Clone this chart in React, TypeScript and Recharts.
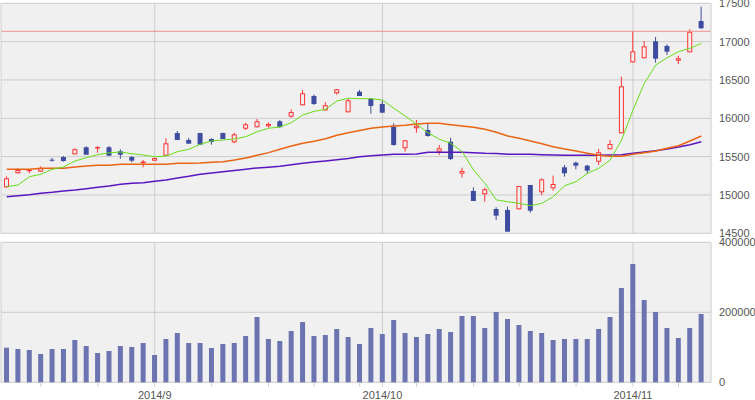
import React from 'react';
import { ComposedChart, Bar, Line, XAxis, YAxis, CartesianGrid, ReferenceLine } from 'recharts';

const dates = ['8/13','8/14','8/15','8/18','8/19','8/20','8/21','8/22','8/25','8/26','8/27','8/28','8/29',
  '9/1','9/2','9/3','9/4','9/5','9/8','9/9','9/10','9/11','9/12','9/16','9/17','9/18','9/19','9/22','9/24','9/25','9/26','9/29','9/30',
  '10/1','10/2','10/3','10/6','10/7','10/8','10/9','10/10','10/14','10/15','10/16','10/17','10/20','10/21','10/22','10/23','10/24','10/27','10/28','10/29','10/30','10/31',
  '11/4','11/5','11/6','11/7','11/10','11/11','11/12'];

const opens = [15100,15283,15322,15304,15460,15495,15530,15622,15620,15622,15570,15495,15430,15447,15512,15808,15717,15808,15730,15808,15687,15864,15883,15896,15961,16021,16170,16291,16104,16326,16078,16347,16256,16187,15891,15609,15870,15848,15565,15695,15278,15052,15009,14817,14804,14813,15130,15035,15087,15361,15421,15382,15434,15596,15804,16730,16783,17004,16943,16752,16861,17269];
const highs = [15243,15348,15333,15374,15482,15508,15609,15635,15635,15639,15596,15508,15456,15486,15739,15834,15743,15812,15739,15812,15812,15943,15991,15948,15978,16117,16369,16308,16209,16382,16261,16370,16265,16230,15935,15717,15978,15926,15652,15747,15356,15100,15095,14839,14847,15117,15130,15217,15252,15391,15434,15395,15600,15717,16543,17139,17008,17060,16965,16817,17161,17456];
const lows = [15095,15280,15283,15300,15434,15434,15530,15525,15551,15512,15473,15426,15361,15447,15512,15717,15669,15652,15656,15730,15674,15848,15883,15878,15883,16008,16170,16174,16100,16308,16078,16291,16060,16073,15643,15565,15812,15760,15522,15456,15226,14921,14912,14674,14521,14813,14769,15000,15056,15239,15335,15274,15391,15596,15804,16730,16783,16726,16826,16709,16861,17165];
const closes = [15217,15326,15330,15348,15455,15443,15596,15525,15626,15512,15525,15447,15436,15482,15674,15717,15669,15656,15691,15730,15791,15922,15961,15926,15883,16082,16326,16187,16170,16378,16235,16291,16161,16073,15652,15713,15904,15769,15609,15469,15313,14921,15074,14730,14521,15117,14795,15204,15143,15283,15382,15317,15557,15665,16417,16874,16939,16778,16869,16783,17130,17174];

const volumes = [98900,95200,92300,80900,95200,95200,120900,103700,83700,89400,103700,100900,112300,78000,123700,140900,112300,112300,98000,109400,112300,132300,186600,123700,118000,146600,172300,132300,135100,152300,129400,109400,155100,138000,178000,140900,129400,138000,152300,143700,189400,189400,155100,200900,180900,163700,146600,140900,120900,123700,123700,123700,152300,186600,269400,338000,235100,200900,155100,126600,155100,195100];

const ma5 = [15108,15130,15239,15270,15335,15365,15443,15486,15525,15551,15560,15538,15521,15499,15508,15564,15596,15661,15704,15717,15730,15760,15825,15870,15887,15943,16043,16091,16117,16226,16261,16256,16256,16239,16130,16030,15922,15812,15726,15674,15564,15326,15152,14935,14912,14891,14860,14891,14978,15121,15173,15283,15348,15456,15717,16108,16457,16695,16790,16869,16913,16978];
const ma25 = [15335,15335,15335,15348,15348,15348,15365,15378,15387,15387,15400,15400,15400,15400,15400,15413,15413,15416,15426,15434,15456,15482,15517,15552,15596,15639,15674,15700,15734,15778,15812,15840,15870,15887,15900,15909,15926,15935,15935,15917,15900,15883,15857,15817,15769,15739,15704,15669,15630,15600,15574,15543,15517,15504,15504,15530,15551,15574,15609,15643,15704,15769];
const ma75 = [14978,14991,15004,15022,15035,15052,15065,15082,15100,15117,15139,15152,15160,15178,15195,15222,15243,15270,15287,15302,15320,15337,15352,15363,15376,15393,15413,15430,15443,15458,15475,15499,15512,15521,15530,15530,15534,15557,15557,15557,15557,15552,15543,15540,15530,15530,15530,15526,15521,15517,15517,15517,15517,15521,15526,15543,15560,15578,15600,15626,15656,15695];

const priceTicks = [14500, 15000, 15500, 16000, 16500, 17000, 17500];
const volumeTicks = [0, 200000, 400000];
const weekStarts = ['8/18','8/25','9/1','9/8','9/16','9/22','9/29','10/6','10/14','10/20','10/27','11/4','11/10'];
const monthStarts = ['9/1', '10/1', '11/4'];
const monthLabels = ['2014/9', '2014/10', '2014/11'];
const resistance = 17135;

const data = dates.map((d, i) => ({
  date: d,
  open: opens[i],
  high: highs[i],
  low: lows[i],
  close: closes[i],
  range: [lows[i], highs[i]],
  volume: volumes[i],
  ma5: ma5[i],
  ma25: ma25[i],
  ma75: ma75[i],
}));

const UP = '#ff3333';
const DOWN = '#3e4c9f';
const GRID = '#cccccc';
const BG = '#f0f0f0';
const FONT = '"Liberation Sans", Arial, sans-serif';

const Candle = (props: any) => {
  const { x, y, width, height, payload } = props;
  if (!payload || height == null) return null;
  const { open, close, high, low } = payload;
  const cx = x + width / 2;
  const ratio = height / (high - low);
  const yO = y + (high - open) * ratio;
  const yC = y + (high - close) * ratio;
  const up = close >= open;
  const top = Math.min(yO, yC);
  const bot = Math.max(yO, yC);
  if (up) {
    const bh = Math.max(bot - top - 1, 0.5);
    return (
      <g>
        <line x1={cx} x2={cx} y1={y} y2={y + height} stroke={UP} strokeWidth={1} />
        <rect x={cx - 2} y={top + 0.5} width={4} height={bh} fill={BG} stroke={UP} strokeWidth={1} />
      </g>
    );
  }
  return (
    <g>
      <line x1={cx} x2={cx} y1={y} y2={y + height} stroke={DOWN} strokeWidth={1} />
      <rect x={cx - 2.5} y={top} width={5} height={Math.max(bot - top, 1)} fill={DOWN} />
    </g>
  );
};

const YTick = (props: any) => {
  const { x, y, payload } = props;
  return (
    <text x={x} y={y} dy="0.355em" textAnchor="start" fontSize={11} fontFamily={FONT} fill="#555">
      {payload.value}
    </text>
  );
};

const XTick = (props: any) => {
  const { x, y, payload } = props;
  const v = payload.value;
  const mi = monthStarts.indexOf(v);
  if (weekStarts.indexOf(v) < 0 && mi < 0) return <g />;
  return (
    <g>
      <line x1={x} x2={x} y1={y} y2={y + 4.4} stroke={GRID} />
      {mi >= 0 && (
        <text x={x} y={y + 16.4} textAnchor="middle" fontSize={11} fontFamily={FONT} fill="#555">
          {monthLabels[mi]}
        </text>
      )}
    </g>
  );
};

const xPad = { left: 0, right: 4 };

export default function App() {
  return (
    <div style={{ position: 'absolute', left: 0, top: 0, width: 755, height: 400, background: '#fff' }}>
      <div style={{ position: 'absolute', left: 0, top: 0 }}>
        <ComposedChart width={755} height={240} data={data} margin={{ top: 3.3, right: 0, bottom: 6.7, left: 0 }}>
          <CartesianGrid stroke={GRID} fill={BG} vertical={true} verticalValues={monthStarts} yAxisId="p" />
          <XAxis dataKey="date" type="category" hide padding={xPad} />
          <YAxis yAxisId="l" orientation="left" width={1} domain={[14500, 17500]} ticks={priceTicks} tick={false} tickLine={false} axisLine={{ stroke: GRID }} />
          <YAxis yAxisId="p" orientation="right" width={44} domain={[14500, 17500]} ticks={priceTicks} interval={0} tick={<YTick />} tickLine={false} axisLine={{ stroke: GRID }} />
          <ReferenceLine yAxisId="p" y={resistance} stroke="#f09090" strokeWidth={1} />
          <Line yAxisId="p" dataKey="ma75" type="linear" stroke="#5a16c0" strokeWidth={1.5} dot={false} activeDot={false} isAnimationActive={false} />
          <Line yAxisId="p" dataKey="ma25" type="linear" stroke="#ea6414" strokeWidth={1.5} dot={false} activeDot={false} isAnimationActive={false} />
          <Line yAxisId="p" dataKey="ma5" type="linear" stroke="#66dd1a" strokeWidth={1} dot={false} activeDot={false} isAnimationActive={false} />
          <Bar yAxisId="p" dataKey="range" barSize={5} shape={<Candle />} isAnimationActive={false} />
        </ComposedChart>
      </div>
      <div style={{ position: 'absolute', left: 0, top: 233 }}>
        <ComposedChart width={755} height={167} data={data} margin={{ top: 9.3, right: 0, bottom: 0, left: 0 }}>
          <CartesianGrid stroke={GRID} fill={BG} vertical={true} verticalValues={monthStarts} yAxisId="v" />
          <XAxis dataKey="date" type="category" padding={xPad} height={17.7} interval={0} tickSize={0} tickMargin={0} axisLine={false} tickLine={false} tick={<XTick />} />
          <YAxis yAxisId="l" orientation="left" width={1} domain={[0, 400000]} ticks={volumeTicks} tick={false} tickLine={false} axisLine={{ stroke: GRID }} />
          <YAxis yAxisId="v" orientation="right" width={44} domain={[0, 400000]} ticks={volumeTicks} interval={0} tick={<YTick />} tickLine={false} axisLine={{ stroke: GRID }} />
          <Bar yAxisId="v" dataKey="volume" barSize={5} fill="#6b73b0" isAnimationActive={false} />
        </ComposedChart>
      </div>
    </div>
  );
}
